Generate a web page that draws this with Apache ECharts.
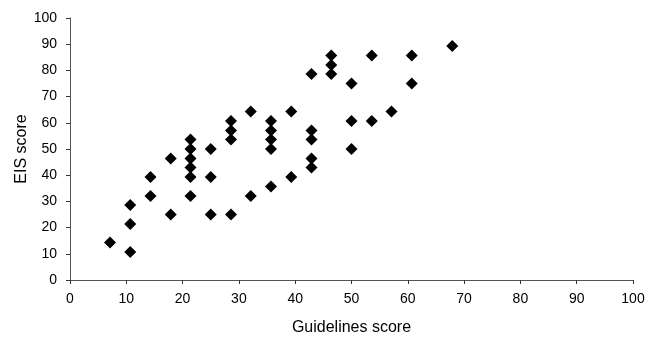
<!DOCTYPE html>
<html>
<head>
<meta charset="utf-8">
<script src="https://cdn.jsdelivr.net/npm/echarts@6/dist/echarts.min.js"></script>
<style>
  html, body { margin: 0; padding: 0; background: #fff; }
  #chart { width: 649px; height: 341px; }
</style>
</head>
<body>
<div id="chart"></div>
<script>
// guidelines score (x) and EIS score (y), one entry per patient
var guidelines = [
  7.1, 10.7, 10.7, 10.7, 14.3, 14.3, 17.9, 17.9,
  21.4, 21.4, 21.4, 21.4, 21.4, 21.4,
  25, 25, 25, 28.6, 28.6, 28.6, 28.6, 32.1, 32.1,
  35.7, 35.7, 35.7, 35.7, 35.7, 39.3, 39.3,
  42.9, 42.9, 42.9, 42.9, 42.9, 46.4, 46.4, 46.4,
  50, 50, 50, 53.6, 53.6, 57.1, 60.7, 60.7, 67.9
];
var eis = [
  14.3, 10.7, 21.4, 28.6, 32.1, 39.3, 25, 46.4,
  32.1, 39.3, 42.9, 46.4, 50, 53.6,
  25, 39.3, 50, 25, 53.6, 57.1, 60.7, 32.1, 64.3,
  35.7, 50, 53.6, 57.1, 60.7, 39.3, 64.3,
  42.9, 46.4, 53.6, 57.1, 78.6, 78.6, 82.1, 85.7,
  50, 60.7, 75, 60.7, 85.7, 64.3, 75, 85.7, 89.3
];

var points = [];
for (var i = 0; i < guidelines.length; i++) {
  points.push([guidelines[i], eis[i]]);
}

var chart = echarts.init(document.getElementById("chart"));
var fontName = "Liberation Sans, Arial, sans-serif";
var axisFont = { fontFamily: fontName, fontSize: 14, color: "#000" };

var option = {
  animation: false,
  grid: { left: 70, right: 16, top: 18, bottom: 61, outerBoundsMode: "none" },
  xAxis: {
    type: "value",
    min: 0,
    max: 100,
    interval: 10,
    name: "Guidelines score",
    nameLocation: "middle",
    nameGap: 40,
    nameMoveOverlap: false,
    nameTextStyle: { fontFamily: fontName, fontSize: 16, color: "#000" },
    axisLine: { show: true, lineStyle: { color: "#555", width: 1 } },
    axisTick: { show: true, length: 4, lineStyle: { color: "#333" } },
    axisLabel: Object.assign({ margin: 12 }, axisFont),
    splitLine: { show: false }
  },
  yAxis: {
    type: "value",
    min: 0,
    max: 100,
    interval: 10,
    name: "EIS score",
    nameLocation: "middle",
    nameGap: 40,
    nameMoveOverlap: false,
    nameRotate: 90,
    nameTextStyle: { fontFamily: fontName, fontSize: 16, color: "#000" },
    axisLine: { show: true, lineStyle: { color: "#555", width: 1 } },
    axisTick: { show: true, length: 4, lineStyle: { color: "#333" } },
    axisLabel: Object.assign({ margin: 13 }, axisFont),
    splitLine: { show: false }
  },
  series: [
    {
      type: "scatter",
      symbol: "diamond",
      symbolSize: 12,
      itemStyle: { color: "#000", opacity: 1 },
      data: points
    }
  ]
};
chart.setOption(option);
</script>
</body>
</html>
